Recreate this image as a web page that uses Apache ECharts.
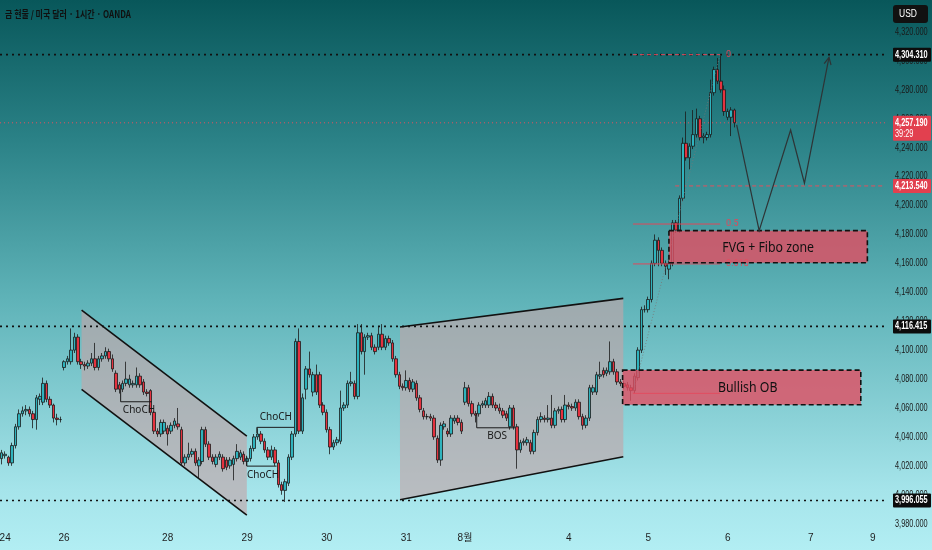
<!DOCTYPE html>
<html><head><meta charset="utf-8">
<script src="https://cdn.jsdelivr.net/npm/echarts@6/dist/echarts.min.js"></script>
<style>html,body{margin:0;padding:0;width:932px;height:550px;overflow:hidden}#c{width:932px;height:550px}</style>
</head><body><div id="c"></div>
<script>
const TITLE = '금 현물 / 미국 달러 · 1시간 · OANDA';
const N_SLOTS = 256;
const dayLabelIdx = [1, 18, 48, 71, 94, 117, 134, 164, 187, 210, 234, 252];
const dayLabelTxt = ['24', '26', '28', '29', '30', '31', '8월', '4', '5', '6', '7', '9'];
const yTicks = [3980, 4000, 4020, 4040, 4060, 4080, 4100, 4120, 4140, 4160, 4180, 4200, 4220, 4240, 4260, 4280, 4300, 4320];
const yMin = 3977.7, yMax = 4342.1;

// [open, close, low, high]
const ohlc = [
[4025,4029,4021,4031],[4027,4028,4025,4030],[4026,4022,4020,4027],[4022,4034,4020,4036],[4034,4047,4032,4049],
[4047,4056,4045,4059],[4056,4058,4054,4061],[4058,4059,4055,4062],[4059,4056,4054,4061],[4056,4052,4046,4058],
[4052,4067,4045,4069],[4066,4068,4062,4070],[4064,4077,4062,4081],[4077,4066,4064,4079],[4066,4062,4060,4068],
[4062,4053,4050,4063],[4053,4052,4048,4056],[4052,4052,4050,4054],[4088,4092,4086,4093],[4092,4094,4090,4096],
[4092,4100,4090,4115],[4100,4109,4098,4112],[4109,4092,4090,4111],[4092,4090,4087,4094],[4090,4089,4086,4092],
[4089,4091,4087,4093],[4091,4094,4089,4098],[4094,4088,4086,4105],[4088,4094,4086,4096],[4094,4096,4092,4098],
[4096,4099,4094,4102],[4099,4094,4092,4101],[4094,4087,4085,4097],[4084,4073,4071,4086],[4076,4073,4070,4078],
[4073,4077,4071,4079],[4077,4080,4075,4092],[4076,4080,4074,4083],[4076,4077,4074,4079],[4076,4082,4074,4088],
[4082,4076,4074,4084],[4078,4071,4069,4080],[4071,4070,4068,4073],[4072,4057,4055,4073],[4057,4044,4042,4058],
[4044,4042,4040,4046],[4042,4050,4040,4052],[4044,4050,4042,4052],[4046,4042,4034,4048],[4044,4048,4042,4050],
[4048,4051,4046,4053],[4049,4047,4045,4060],[4045,4022,4020,4047],[4022,4026,4020,4028],[4026,4028,4024,4036],
[4028,4030,4026,4032],[4030,4022,4020,4032],[4020,4024,4011,4026],[4023,4045,4021,4047],[4045,4035,4033,4047],
[4035,4026,4024,4037],[4026,4023,4021,4028],[4021,4026,4019,4028],[4026,4028,4024,4030],[4026,4018,4016,4028],
[4024,4019,4017,4026],[4020,4024,4018,4026],[4021,4025,4010,4027],[4025,4030,4023,4035],[4026,4029,4024,4031],
[4028,4023,4021,4030],[4023,4025,4020,4027],[4025,4032,4023,4034],[4032,4040,4030,4042],[4040,4042,4038,4046],
[4042,4037,4035,4044],[4037,4031,4029,4039],[4031,4026,4024,4033],[4026,4031,4024,4034],[4031,4022,4020,4033],
[4022,4007,4005,4024],[4007,4003,4000,4009],[4003,4009,3995,4011],[4008,4026,4006,4028],[4026,4042,4024,4044],
[4042,4106,4040,4108],[4106,4044,4042,4115],[4044,4067,4042,4070],[4073,4087,4066,4089],[4087,4083,4081,4099],
[4071,4083,4068,4085],[4083,4071,4069,4090],[4083,4062,4060,4085],[4062,4057,4055,4064],[4057,4045,4043,4059],
[4045,4033,4028,4047],[4033,4036,4031,4038],[4036,4038,4034,4040],[4037,4060,4035,4072],[4060,4062,4058,4064],
[4062,4077,4060,4079],[4077,4078,4075,4085],[4077,4068,4066,4079],[4068,4112,4066,4118],[4112,4099,4097,4118],
[4099,4109,4083,4111],[4109,4110,4107,4112],[4110,4102,4100,4112],[4102,4099,4097,4104],[4102,4111,4100,4116],
[4111,4102,4100,4118],[4102,4108,4100,4110],[4108,4105,4103,4110],[4105,4094,4092,4107],[4094,4083,4081,4096],
[4083,4075,4073,4085],[4075,4074,4072,4077],[4074,4079,4072,4086],[4079,4073,4071,4081],[4073,4078,4071,4080],
[4077,4067,4065,4079],[4067,4059,4057,4069],[4058,4054,4052,4060],[4054,4054,4052,4056],[4054,4053,4051,4056],
[4053,4040,4038,4055],[4039,4024,4022,4041],[4024,4048,4020,4050],[4047,4049,4045,4051],[4044,4042,4040,4046],
[4042,4053,4040,4055],[4051,4053,4049,4055],[4053,4050,4048,4055],[4050,4044,4042,4052],[4064,4074,4062,4078],
[4074,4063,4061,4076],[4063,4056,4054,4065],[4056,4055,4050,4058],[4056,4062,4054,4064],[4062,4063,4060,4065],
[4062,4065,4060,4067],[4062,4068,4060,4071],[4068,4062,4060,4070],[4062,4060,4058,4064],[4060,4058,4056,4063],
[4058,4055,4053,4060],[4056,4053,4051,4058],[4047,4060,4045,4062],[4060,4047,4045,4062],[4047,4031,4018,4049],
[4031,4036,4029,4038],[4036,4037,4034,4039],[4036,4038,4034,4040],[4036,4030,4028,4038],[4030,4043,4028,4045],
[4043,4052,4041,4054],[4052,4054,4050,4057],[4053,4052,4050,4055],[4052,4053,4050,4062],[4053,4048,4046,4069],
[4048,4058,4046,4060],[4058,4059,4056,4061],[4059,4052,4050,4061],[4052,4062,4050,4069],[4062,4061,4059,4064],
[4061,4060,4058,4063],[4060,4064,4058,4066],[4064,4054,4052,4066],[4054,4048,4045,4056],[4048,4053,4046,4055],
[4053,4074,4051,4076],[4071,4074,4069,4076],[4071,4083,4069,4085],[4082,4083,4080,4092],[4086,4083,4081,4088],
[4084,4086,4082,4088],[4085,4092,4083,4106],[4092,4085,4083,4094],[4085,4078,4076,4087],[4078,4077,4075,4080],
[4077,4075,4073,4079],[4076,4074,4072,4078],[4074,4072,4065,4076],[4072,4082,4070,4084],[4081,4100,4079,4102],
[4100,4128,4098,4130],[4128,4128,4126,4131],[4128,4135,4126,4137],[4135,4160,4133,4162],[4160,4176,4158,4180],
[4176,4169,4158,4178],[4169,4160,4158,4171],[4160,4158,4152,4162],[4156,4160,4149,4162],[4160,4188,4158,4190],
[4188,4183,4181,4190],[4183,4205,4181,4207],[4205,4243,4203,4247],[4243,4233,4231,4265],[4233,4241,4225,4243],
[4241,4249,4239,4266],[4249,4260,4247,4267],[4260,4247,4245,4262],[4247,4248,4243,4250],[4247,4249,4245,4251],
[4249,4278,4247,4287],[4278,4294,4276,4296],[4294,4286,4284,4302],[4286,4280,4278,4304.31],[4280,4265,4262,4283],
[4261,4265,4259,4267],[4261,4266,4248,4268],[4266,4257.19,4254,4267]
];

const levelsBlack = [4304.31, 4116.415, 3996.055];
const lastPrice = 4257.19;
const levelRed = 4213.54;
const levelRedStart = 194.8;
const tagValues = [4304.31, 4257.19, 4213.54, 4116.415, 3996.055];
const tagTexts = ['4,304.310', '4,257.190', '4,213.540', '4,116.415', '3,996.055'];
const tagSub = ['', '39:29', '', '', ''];
const tagColors = ['#0c0c0c', '#e2404f', '#e2404f', '#0c0c0c', '#0c0c0c'];

const channelDown = [[23.1, 4127.7], [70.9, 4040.6], [70.9, 3985.9], [23.1, 4072.9]];
const channelUp = [[115.2, 4116.0], [179.8, 4135.8], [179.8, 4026.3], [115.2, 3996.5]];

const structLines = [
  [[34.4, 4073.0], [34.4, 4064.3], [43.4, 4064.3]],
  [[73.8, 4042.5], [73.8, 4046.6], [84.6, 4046.6]],
  [[70.9, 4026.3], [70.9, 4019.8], [79.5, 4019.8]],
  [[137.4, 4056.5], [137.4, 4046.3], [148.5, 4046.3]]
];
const noteTexts = ['ChoCH', 'ChoCH', 'ChoCH', 'BOS'];
const noteX = [39.7, 79.3, 75.6, 143.3];
const noteY = [4058.6, 4053.7, 4013.6, 4040.6];

const boxNames = ['Bullish OB', 'FVG + Fibo zone'];
const boxX0 = [179.6, 193.0];
const boxX1 = [248.5, 250.4];
const boxLow = [4062.2, 4160.4];
const boxHigh = [4086.2, 4182.6];

const fibLevels = [4304.31, 4187.2, 4159.6, 4070.1];
const fibLabels = ['0', '0.5', '0.618', ''];
const fibX0 = 182.6, fibX1 = 207.8;

const projX = [212.6, 219.1, 228.2, 232.2, 239.3];
const projY = [4255.7, 4182.6, 4252.2, 4215.4, 4302.5];

const LAST = N_SLOTS - 0.5, FIRST = -0.5;
const fmt = v => v.toLocaleString('en-US', {minimumFractionDigits: 3, maximumFractionDigits: 3});
const labelMap = {};
dayLabelIdx.forEach((k, i) => labelMap[k] = dayLabelTxt[i]);
const AXFONT = '"Liberation Sans","Noto Sans CJK KR",sans-serif';
const SX = 0.7;

const series = [];
// channels
series.push({
  type: 'custom', xAxisIndex: 1, yAxisIndex: 0, z: 1, silent: true,
  data: [[0], [1]],
  renderItem(params, api) {
    const poly = [channelDown, channelUp][params.dataIndex];
    const p = poly.map(q => api.coord(q));
    return {type: 'group', children: [
      {type: 'polygon', shape: {points: p}, style: {fill: 'rgba(195,165,168,0.63)'}},
      {type: 'line', shape: {x1: p[0][0], y1: p[0][1], x2: p[1][0], y2: p[1][1]}, style: {stroke: '#111', lineWidth: 1.6}},
      {type: 'line', shape: {x1: p[3][0], y1: p[3][1], x2: p[2][0], y2: p[2][1]}, style: {stroke: '#111', lineWidth: 1.6}}
    ]};
  }
});
// horizontal levels
levelsBlack.forEach(v => series.push({
  type: 'line', xAxisIndex: 1, yAxisIndex: 0, z: 1, symbol: 'none', silent: true,
  data: [[FIRST, v], [LAST, v]], lineStyle: {color: '#111', width: 1.6, type: [2, 4]}
}));
series.push({
  type: 'line', xAxisIndex: 1, yAxisIndex: 0, z: 1, symbol: 'none', silent: true,
  data: [[FIRST, lastPrice], [LAST, lastPrice]], lineStyle: {color: '#e0505f', width: 1, type: [1, 3]}
});
series.push({
  type: 'line', xAxisIndex: 1, yAxisIndex: 0, z: 1, symbol: 'none', silent: true,
  data: [[levelRedStart, levelRed], [LAST, levelRed]], lineStyle: {color: '#e0505f', width: 1, type: [4, 3]}
});
// candles
series.push({
  type: 'candlestick', xAxisIndex: 0, yAxisIndex: 0, z: 2, barWidth: 3,
  data: ohlc,
  itemStyle: {color: '#2fb3bd', color0: '#e5323f', borderColor: '#1b1b1b', borderColor0: '#1b1b1b', borderWidth: 0.8}
});
// fib
series.push({
  type: 'custom', xAxisIndex: 1, yAxisIndex: 0, z: 3, silent: true,
  data: fibLevels.map((v, i) => [i]),
  renderItem(params, api) {
    const i = params.dataIndex, v = fibLevels[i];
    const a = api.coord([fibX0, v]), b = api.coord([fibX1, v]);
    const ch = [{type: 'line', shape: {x1: a[0], y1: a[1], x2: b[0], y2: b[1]},
      style: {stroke: '#e0485a', lineWidth: 1, lineDash: i === 0 ? [4, 3] : null}}];
    if (fibLabels[i]) ch.push({type: 'text', x: b[0] + 6, y: b[1], style: {text: fibLabels[i], fill: '#e0485a', fontSize: 9, fontFamily: 'Roboto', verticalAlign: 'middle'}});
    if (i === 0) {
      const c = api.coord([fibX0, fibLevels[3]]);
      ch.push({type: 'line', shape: {x1: c[0], y1: c[1], x2: b[0], y2: b[1]}, style: {stroke: 'rgba(120,120,120,0.8)', lineWidth: 1, lineDash: [1, 2]}});
    }
    return {type: 'group', children: ch};
  }
});
// boxes
series.push({
  type: 'custom', xAxisIndex: 1, yAxisIndex: 0, z: 4, silent: true,
  data: boxNames.map((n, i) => [i]),
  renderItem(params, api) {
    const i = params.dataIndex;
    const a = api.coord([boxX0[i], boxHigh[i]]), b = api.coord([boxX1[i], boxLow[i]]);
    return {type: 'group', children: [
      {type: 'rect', shape: {x: a[0], y: a[1], width: b[0] - a[0], height: b[1] - a[1]},
        style: {fill: 'rgba(226,78,98,0.8)', stroke: '#111', lineWidth: 1.6, lineDash: [5, 3]}},
      {type: 'text', x: (a[0] + b[0]) / 2 + (i === 0 ? 6 : 0), y: (a[1] + b[1]) / 2 + 1, scaleX: 0.88,
        style: {text: boxNames[i], fill: '#111', fontSize: 14, fontFamily: '"Noto Sans",sans-serif', align: 'center', verticalAlign: 'middle'}}
    ]};
  }
});
// structure lines
structLines.forEach(pts => series.push({
  type: 'line', xAxisIndex: 1, yAxisIndex: 0, z: 3, symbol: 'none', silent: true,
  data: pts, lineStyle: {color: '#1a1a1a', width: 1}
}));
series.push({
  type: 'custom', xAxisIndex: 1, yAxisIndex: 0, z: 5, silent: true,
  data: noteTexts.map((t, i) => [noteX[i], noteY[i]]),
  renderItem(params, api) {
    const p = api.coord([api.value(0), api.value(1)]);
    return {type: 'text', x: p[0], y: p[1], style: {text: noteTexts[params.dataIndex], fill: '#1a1a1a', fontSize: 10, fontFamily: '"Noto Sans",sans-serif', align: 'center', verticalAlign: 'middle'}};
  }
});
// projection
series.push({
  type: 'custom', xAxisIndex: 1, yAxisIndex: 0, z: 5, silent: true,
  data: [[0]],
  renderItem(params, api) {
    const pts = projX.map((x, i) => api.coord([x, projY[i]]));
    const n = pts.length, e = pts[n - 1], s = pts[n - 2];
    const ang = Math.atan2(e[1] - s[1], e[0] - s[0]);
    const L = 8, w = 0.45;
    const h1 = [e[0] - L * Math.cos(ang - w), e[1] - L * Math.sin(ang - w)];
    const h2 = [e[0] - L * Math.cos(ang + w), e[1] - L * Math.sin(ang + w)];
    return {type: 'group', children: [
      {type: 'polyline', shape: {points: pts}, style: {stroke: '#2e3436', lineWidth: 1.2, fill: null}},
      {type: 'polyline', shape: {points: [h1, e, h2]}, style: {stroke: '#2e3436', lineWidth: 1.2, fill: null}}
    ]};
  }
});
// y-axis tick labels (condensed)
series.push({
  type: 'custom', xAxisIndex: 1, yAxisIndex: 0, z: 8, silent: true, clip: false,
  data: yTicks.map(v => [LAST, v]),
  renderItem(params, api) {
    const v = yTicks[params.dataIndex];
    const p = api.coord([LAST, v]);
    return {type: 'text', x: p[0] + 10, y: p[1], scaleX: SX,
      style: {text: fmt(v), fill: '#1a1a1a', fontSize: 10.5, fontFamily: AXFONT, verticalAlign: 'middle'}};
  }
});
// price tags
series.push({
  type: 'custom', xAxisIndex: 1, yAxisIndex: 0, z: 10, silent: true, clip: false,
  data: tagValues.map((v, i) => [LAST, v]),
  renderItem(params, api) {
    const i = params.dataIndex;
    const p = api.coord([LAST, tagValues[i]]);
    const x = p[0] + 8, y = p[1];
    const two = !!tagSub[i];
    const ch = [{type: 'rect', shape: {x: x, y: y - 7, width: 38, height: two ? 25 : 14, r: 1}, style: {fill: tagColors[i]}},
      {type: 'text', x: x + 2, y: y, scaleX: SX, style: {text: tagTexts[i], fill: '#fff', fontSize: 10.5, fontWeight: 'bold', fontFamily: AXFONT, verticalAlign: 'middle'}}];
    if (two) ch.push({type: 'text', x: x + 2, y: y + 11, scaleX: SX, style: {text: tagSub[i], fill: '#fff', fontSize: 10.5, fontFamily: AXFONT, verticalAlign: 'middle'}});
    return {type: 'group', children: ch};
  }
});

const chart = echarts.init(document.getElementById('c'));
chart.setOption({
  animation: false,
  backgroundColor: {type: 'linear', x: 0, y: 0, x2: 0, y2: 1, colorStops: [
    {offset: 0, color: '#08575a'}, {offset: 0.25, color: '#2a8186'}, {offset: 0.545, color: '#5fb3b8'},
    {offset: 0.89, color: '#a5e4ea'}, {offset: 1, color: '#b2eef3'}]},
  graphic: [
    {type: 'text', left: 5, top: 9, scaleX: 0.8,
      style: {text: TITLE, fill: '#101010', fontSize: 10, fontWeight: 'bold', fontFamily: '"Noto Sans CJK KR",sans-serif'}},
    {type: 'group', right: 4, top: 5, children: [
      {type: 'rect', shape: {x: 0, y: 0, width: 35, height: 18, r: 3}, style: {fill: '#111'}},
      {type: 'text', x: 6, y: 9, scaleX: 0.85, style: {text: 'USD', fill: '#fff', fontSize: 10, fontFamily: AXFONT, verticalAlign: 'middle'}}
    ]}],
  grid: {left: 0, right: 47, top: 0, bottom: 23, outerBoundsMode: 'none', containLabel: false},
  xAxis: [
    {type: 'category', data: Array.from({length: N_SLOTS}, (_, i) => i), boundaryGap: true,
      axisLine: {show: false}, axisTick: {show: false}, splitLine: {show: false},
      axisLabel: {interval: 0, margin: 6, color: '#1e1e1e', fontSize: 10, fontFamily: AXFONT,
        formatter: (v, idx) => labelMap[idx] || ''}},
    {type: 'value', min: FIRST, max: LAST, show: false}
  ],
  yAxis: {type: 'value', position: 'right', min: yMin, max: yMax, scale: true,
    axisLine: {show: false}, axisTick: {show: false}, splitLine: {show: false},
    axisLabel: {show: false}},
  series: series
});
</script></body></html>
